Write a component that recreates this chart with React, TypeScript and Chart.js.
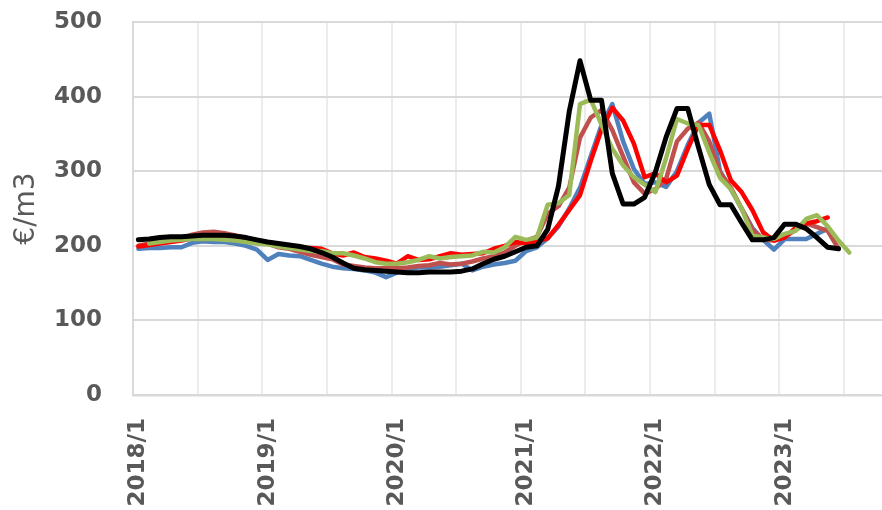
import React, { useEffect, useRef } from "react";
import { Chart, registerables } from "chart.js";

Chart.register(...registerables);

const months: string[] = [
  "2018/1","2018/2","2018/3","2018/4","2018/5","2018/6","2018/7","2018/8","2018/9","2018/10","2018/11","2018/12",
  "2019/1","2019/2","2019/3","2019/4","2019/5","2019/6","2019/7","2019/8","2019/9","2019/10","2019/11","2019/12",
  "2020/1","2020/2","2020/3","2020/4","2020/5","2020/6","2020/7","2020/8","2020/9","2020/10","2020/11","2020/12",
  "2021/1","2021/2","2021/3","2021/4","2021/5","2021/6","2021/7","2021/8","2021/9","2021/10","2021/11","2021/12",
  "2022/1","2022/2","2022/3","2022/4","2022/5","2022/6","2022/7","2022/8","2022/9","2022/10","2022/11","2022/12",
  "2023/1","2023/2","2023/3","2023/4","2023/5","2023/6","2023/7","2023/8","2023/9","2023/10",
];

const blueSeries: (number | null)[] = [
  196,197,197,198,198,204,206,205,205,203,200,195,
  181,189,187,186,181,176,172,170,169,167,164,158,
  164,169,171,171,172,174,176,167,172,175,177,180,
  193,198,210,226,250,278,320,362,390,340,303,283,
  285,279,300,335,365,377,300,276,250,224,208,195,
  209,209,209,216,223,null,null,null,null,null,
];

const brownSeries: (number | null)[] = [
  200,203,205,207,210,215,218,219,217,214,211,207,
  203,198,196,192,188,185,182,175,173,171,170,170,
  170,171,173,174,177,175,176,179,183,186,191,200,
  207,212,243,253,278,345,372,382,355,320,285,270,
  276,290,340,357,365,340,298,278,250,222,208,207,
  212,221,230,225,220,196,null,null,null,null,
];

const redSeries: (number | null)[] = [
  199,201,203,205,207,210,211,211,210,209,207,205,
  203,201,199,197,197,196,190,187,191,185,183,180,
  176,186,181,182,186,190,188,189,190,196,200,205,
  203,206,210,228,248,268,314,356,385,368,337,292,
  297,285,294,330,362,362,328,288,272,248,218,207,
  211,224,230,233,238,null,null,null,null,null,
];

const greenSeries: (number | null)[] = [
  null,203,205,207,208,209,209,209,208,207,205,203,
  202,199,197,195,193,193,190,190,187,183,178,176,
  176,178,181,186,183,185,186,187,192,191,198,212,
  208,211,255,257,268,390,396,362,330,308,292,282,
  272,318,370,364,362,325,291,276,250,214,211,209,
  216,220,236,241,226,207,191,null,null,null,
];

const blackSeries: (number | null)[] = [
  208,209,211,212,212,213,214,214,214,213,211,208,
  205,203,201,199,196,191,185,177,170,168,167,166,
  165,164,164,165,165,165,166,169,176,182,186,192,
  198,200,222,280,380,448,395,395,297,256,256,265,
  299,346,384,384,332,282,255,255,231,208,208,211,
  229,229,223,211,198,196,null,null,null,null,
];

const yTicks = [0, 100, 200, 300, 400, 500];

const seriesDefs = [
  { name: "black", data: blackSeries, color: "#000000", width: 5 },
  { name: "green", data: greenSeries, color: "#9BBB59", width: 4.5 },
  { name: "red", data: redSeries, color: "#FF0000", width: 4.5 },
  { name: "brown", data: brownSeries, color: "#C0504D", width: 4.5 },
  { name: "blue", data: blueSeries, color: "#4F81BD", width: 4.5 },
];

export default function App() {
  const ref = useRef<HTMLCanvasElement | null>(null);

  useEffect(() => {
    if (!ref.current) return;
    const chart = new Chart(ref.current, {
      type: "line",
      data: {
        labels: months,
        datasets: seriesDefs.map((s) => ({
          label: s.name,
          data: s.data,
          borderColor: s.color,
          backgroundColor: s.color,
          borderWidth: s.width,
          pointRadius: 0,
          tension: 0,
          borderJoinStyle: "round" as const,
          borderCapStyle: "round" as const,
          spanGaps: false,
        })),
      },
      options: {
        animation: false,
        responsive: false,
        devicePixelRatio: 1,
        layout: { padding: { top: 22, left: 0, right: 0, bottom: 0 } },
        plugins: { legend: { display: false }, tooltip: { enabled: false } },
        scales: {
          x: {
            type: "category",
            offset: true,
            grid: {
              offset: true,
              drawTicks: false,
              lineWidth: 2,
              color: (ctx: any) =>
                typeof ctx.index === "number" && ctx.index % 6 === 0 ? "#ececec" : "rgba(0,0,0,0)",
            },
            border: { color: "#d9d9d9", width: 2.5 },
            ticks: {
              autoSkip: false,
              minRotation: 90,
              maxRotation: 90,
              padding: 23,
              color: "#595959",
              font: { family: "DejaVu Sans", weight: "bold", size: 23 },
              callback: (_v: any, i: number) => (months[i].endsWith("/1") ? months[i] : ""),
            },
            afterFit: (s: any) => {
              s.height = 115;
              s.paddingLeft = 0;
              s.paddingRight = 0;
            },
          },
          y: {
            min: 0,
            max: 500,
            afterBuildTicks: (s: any) => {
              s.ticks = yTicks.map((v) => ({ value: v }));
            },
            grid: { color: "#d9d9d9", lineWidth: 2, drawTicks: false },
            border: { color: "#d9d9d9", width: 2 },
            ticks: {
              padding: 31,
              color: "#595959",
              font: { family: "DejaVu Sans", weight: "bold", size: 23 },
            },
            title: {
              display: true,
              text: "€/m3",
              color: "#595959",
              font: { family: "DejaVu Sans", size: 28, weight: "normal" },
              padding: { top: 10, bottom: 0 },
            },
            afterFit: (s: any) => {
              s.width = 133;
              s.paddingTop = 0;
              s.paddingBottom = 0;
            },
          },
        },
      },
    });
    return () => chart.destroy();
  }, []);

  return (
    <div
      style={{
        position: "fixed",
        left: 0,
        top: 0,
        width: 882,
        height: 510,
        overflow: "hidden",
        background: "#ffffff",
      }}
    >
      <canvas ref={ref} width={887} height={510} style={{ display: "block", width: 887, height: 510 }} />
    </div>
  );
}
